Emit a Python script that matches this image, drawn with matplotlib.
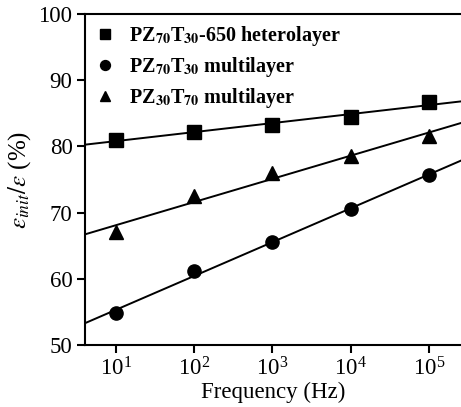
import numpy as np
import matplotlib
matplotlib.use('Agg')
import matplotlib.pyplot as plt

plt.rcParams['font.family'] = ['Liberation Serif', 'DejaVu Serif']
plt.rcParams['mathtext.fontset'] = 'stix'

freq = [1e1, 1e2, 1e3, 1e4, 1e5]
hetero = [81.0, 82.2, 83.3, 84.4, 86.7]
pz7030 = [54.8, 61.2, 65.5, 70.5, 75.7]
pz3070 = [67.0, 72.5, 76.0, 78.5, 81.5]

labels = [r'PZ$_{\mathbf{70}}$T$_{\mathbf{30}}$-650 heterolayer',
          r'PZ$_{\mathbf{70}}$T$_{\mathbf{30}}$ multilayer',
          r'PZ$_{\mathbf{30}}$T$_{\mathbf{70}}$ multilayer']
markers = ['s', 'o', '^']

fig = plt.figure(figsize=(4.61, 4.07), dpi=100)
ax = fig.add_axes([85/461, 1 - 345/407, 1 - 85/461, (345 - 14)/407])

xmin, xmax = 10**0.604, 10**5.41
xx = np.logspace(np.log10(xmin), np.log10(xmax), 50)

for ys, m, lab in zip([hetero, pz7030, pz3070], markers, labels):
    # linear fit in log(f)
    p = np.polyfit(np.log10(freq), ys, 1)
    ax.plot(xx, np.polyval(p, np.log10(xx)), color='black', lw=1.4)
    ax.plot(freq, ys, linestyle='none', marker=m, color='black',
            markersize=9.5 if m != '^' else 10.5, label=lab)

ax.set_xscale('log')
ax.set_xlim(xmin, xmax)
ax.set_ylim(50, 100)
ax.set_yticks([50, 60, 70, 80, 90, 100])
ax.xaxis.set_minor_locator(matplotlib.ticker.NullLocator())
ax.spines['right'].set_visible(False)
for s in ['left', 'bottom', 'top']:
    ax.spines[s].set_linewidth(1.5)
ax.tick_params(direction='out', length=6, width=1.5, labelsize=16.5, pad=3)

ax.set_xlabel('Frequency (Hz)', fontsize=16.5, labelpad=1)
ax.set_ylabel(r'$\varepsilon_{init}/\varepsilon$ (%)', fontsize=18, labelpad=4)

leg = ax.legend(loc='upper left', frameon=False, prop={'weight': 'bold', 'size': 14.5},
                handletextpad=0.7, labelspacing=0.35, borderaxespad=0.1,
                handlelength=1.0, markerscale=0.75, bbox_to_anchor=(0.0, 1.0))

fig.savefig('out.png', dpi=100)
